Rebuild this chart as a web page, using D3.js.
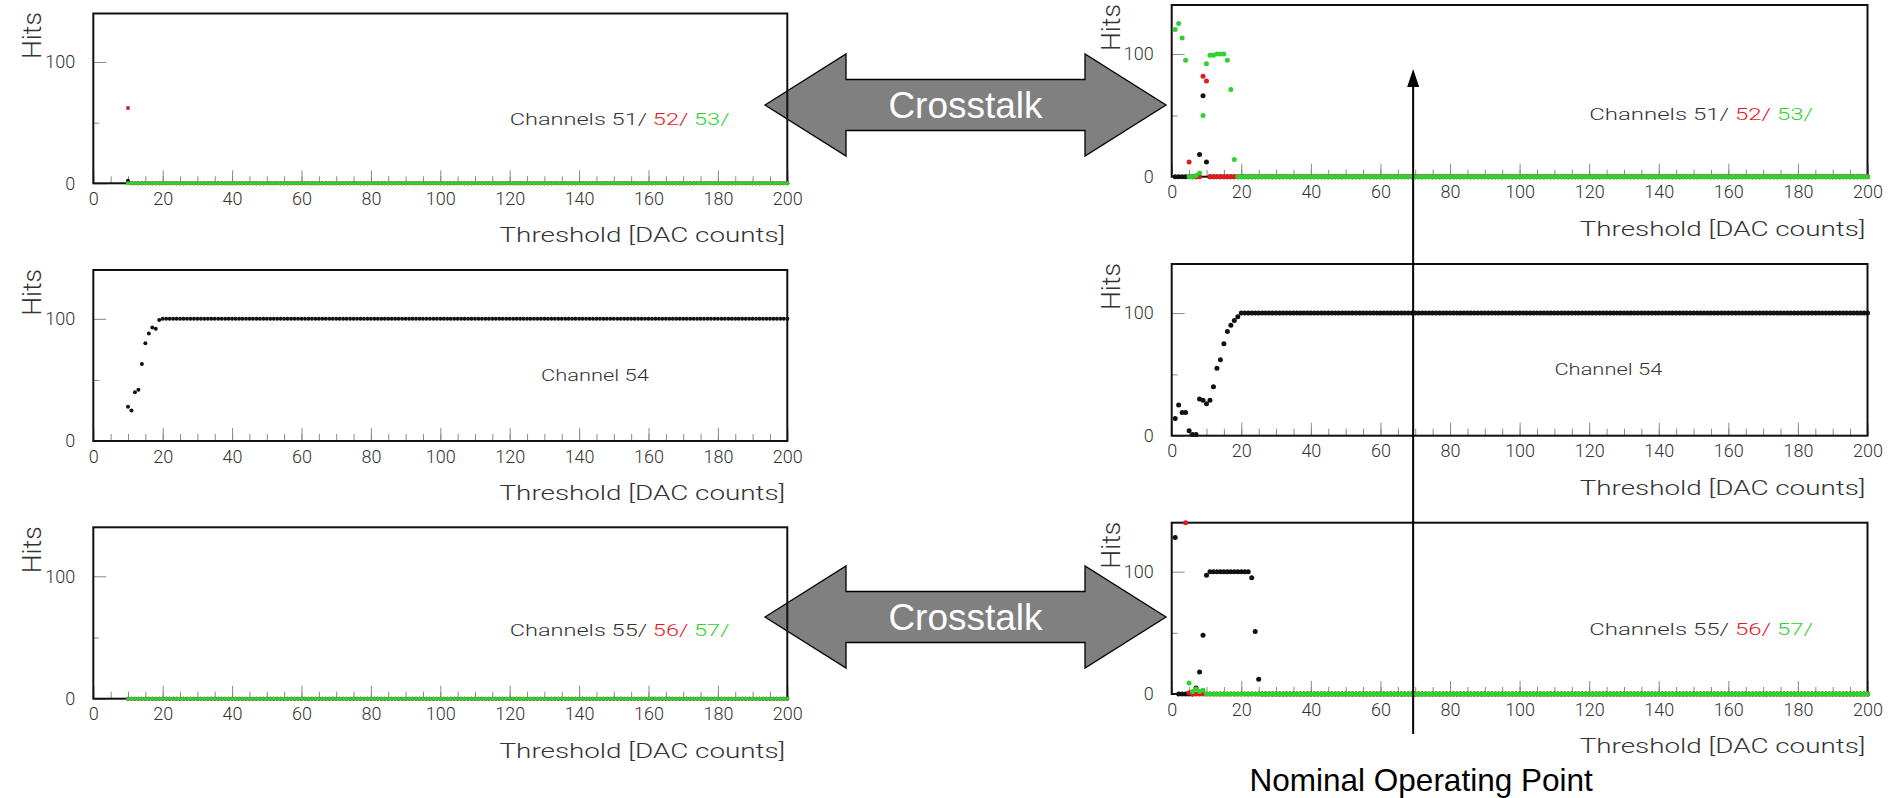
<!DOCTYPE html>
<html>
<head>
<meta charset="utf-8">
<script src="https://cdn.jsdelivr.net/npm/d3@7"></script>
<style>
html, body { margin: 0; padding: 0; background: #fff; }
svg { display: block; }
text { font-family: Roboto, "DejaVu Sans", sans-serif; font-weight: 300; white-space: pre; }
</style>
</head>
<body>
<svg id="chart" width="1890" height="798"></svg>
<script>
// threshold scan axes
const xDomain = [0, 200];
const yDomain = [0, 140];
const xMajorTicks = [0, 20, 40, 60, 80, 100, 120, 140, 160, 180, 200];
const xMinorTicks = d3.range(0, 201, 5);
const yMajorTicks = [0, 100];
const yMinorTicks = [50];

// left column scans start at threshold 10, right column at threshold 1
const startL = 10;
const startR = 1;

// hits read point by point from the start threshold; null = not drawn
const ch51L = [2];
const ch52L = [62];
const ch53L = [0];
const ch54L = [28, 25, 40, 42, 63, 80, 88, 93, 92, 99];
const ch55L = [0];
const ch56L = [0];
const ch57L = [0];

const ch51R = [0, 0, 0, 0, 0, 0, 0, 18, 66, 12];
const ch52R = [null, null, null, null, 12, 0, 0, 0, 82, 78];
const ch53R = [120, 125, 113, 95, 0, 0, 1, 3, 50, 92, 99, 99, 100, 100, 100, 95, 71, 14];
const ch54R = [14, 25, 19, 19, 4, 1, 1, 30, 29, 26, 29, 40, 55, 62, 75, 85, 90, 94, 97];
const ch55R = [128, 0, 0, 0, 0, 0, 5, 18, 48, 97, 100, 100, 100, 100, 100, 100, 100, 100, 100, 100, 100, 100, 95, 51, 12];
const ch56R = [null, null, null, 140, 1];
const ch57R = [null, null, null, null, 9, 2, 4, 2, 3];

// level each scan stays at after its listed points, up to threshold 200 (rows: 51-53, 54, 55-57)
const plateauRows = [0, 100, 0];

const nominalThreshold = 69.4;

const ink = "#333333";
const colBlack = "#111111";
const colRed = "#e3191c";
const colGreen = "#2fd12f";

const svg = d3.select("#chart");

const cols = {
  L: { x: d3.scaleLinear().domain(xDomain).range([93.3, 787.3]), r: 2.0, start: startL },
  R: { x: d3.scaleLinear().domain(xDomain).range([1171.7, 1867.5]), r: 2.5, start: startR }
};

const crossLabel = (a, b, c) => [["Channels " + a + "/ ", ink], [b + "/ ", colRed], [c + "/", colGreen]];

const panels = [
  { col: "L", y0: 183.3, top: 13.5, series: [ch51L, ch52L, ch53L], row: 0, label: crossLabel(51, 52, 53), lx: 120, ly: 53, lw: 220 },
  { col: "L", y0: 441, top: 270, series: [ch54L], row: 1, label: [["Channel 54", ink]], lx: 129, ly: 54, lw: 108 },
  { col: "L", y0: 698.7, top: 527.3, series: [ch55L, ch56L, ch57L], row: 2, label: crossLabel(55, 56, 57), lx: 120, ly: 56, lw: 220 },
  { col: "R", y0: 176.7, top: 5, series: [ch51R, ch52R, ch53R], row: 0, label: crossLabel(51, 52, 53), lx: 120, ly: 51, lw: 224 },
  { col: "R", y0: 435.7, top: 264, series: [ch54R], row: 1, label: [["Channel 54", ink]], lx: 110, ly: 54, lw: 108 },
  { col: "R", y0: 694, top: 522.7, series: [ch55R, ch56R, ch57R], row: 2, label: crossLabel(55, 56, 57), lx: 120, ly: 53, lw: 224 }
];

function toPoints(values, start, plateau) {
  const pts = [];
  values.forEach((v, i) => { if (v !== null) pts.push([start + i, v]); });
  for (let t = start + values.length; t <= xDomain[1]; t++) pts.push([t, plateau]);
  return pts;
}

// text stretched to a given width, drawn at (x, y)
function stretchedText(g, x, y, parts, size, width, anchor, rotate) {
  const t = g.append("text")
    .attr("text-anchor", anchor || "start")
    .style("font-size", size + "px");
  parts.forEach(([s, c]) => t.append("tspan").attr("fill", c).text(s));
  const k = width ? width / t.node().getComputedTextLength() : 1;
  t.attr("transform", `translate(${x},${y})${rotate ? " rotate(" + rotate + ")" : ""} scale(${k},1)`);
  return t;
}

// crosstalk arrows
function bigArrow(cy, label) {
  const xl = 765, xr = 1166, head = 81, hh = 51, sh = 25.5;
  const pts = [[xl, cy], [xl + head, cy - hh], [xl + head, cy - sh], [xr - head, cy - sh], [xr - head, cy - hh],
               [xr, cy], [xr - head, cy + hh], [xr - head, cy + sh], [xl + head, cy + sh], [xl + head, cy + hh]];
  svg.append("polygon")
    .attr("points", pts.map(p => p.join(",")).join(" "))
    .attr("fill", "#808080")
    .attr("stroke", "#000")
    .attr("stroke-width", 1.3);
  svg.append("text")
    .attr("x", (xl + xr) / 2)
    .attr("y", cy + 13)
    .attr("text-anchor", "middle")
    .style("font-family", "'Liberation Sans', Arial, sans-serif")
    .style("font-weight", 400)
    .style("font-size", "37px")
    .attr("fill", "#fff")
    .text(label);
}
bigArrow(105, "Crosstalk");
bigArrow(617, "Crosstalk");

panels.forEach(p => {
  const c = cols[p.col];
  const x = c.x;
  const y = d3.scaleLinear().domain(yDomain).range([p.y0, p.top]);
  const g = svg.append("g");

  // minor ticks
  const xMinor = g.append("g").attr("transform", `translate(0,${p.y0})`)
    .call(d3.axisBottom(x).tickValues(xMinorTicks).tickSize(-7).tickFormat(""));
  const yMinor = g.append("g").attr("transform", `translate(${x(0)},0)`)
    .call(d3.axisLeft(y).tickValues(yMinorTicks).tickSize(-6).tickFormat(""));
  // major ticks with labels
  const xAxis = g.append("g").attr("transform", `translate(0,${p.y0})`)
    .call(d3.axisBottom(x).tickValues(xMajorTicks).tickSize(-13).tickPadding(9));
  const yAxis = g.append("g").attr("transform", `translate(${x(0)},0)`)
    .call(d3.axisLeft(y).tickValues(yMajorTicks).tickSize(-13).tickPadding(18));

  [xMinor, yMinor, xAxis, yAxis].forEach(a => {
    a.select(".domain").remove();
    a.selectAll("line").attr("stroke", "#8a8a8a").attr("stroke-width", 1);
    a.selectAll("text")
      .attr("fill", ink)
      .style("font-family", "Roboto, 'DejaVu Sans', sans-serif")
      .style("font-weight", 300)
      .style("font-size", "18px");
  });

  // frame
  g.append("rect")
    .attr("x", x(xDomain[0]))
    .attr("y", y(yDomain[1]))
    .attr("width", x(xDomain[1]) - x(xDomain[0]))
    .attr("height", y(yDomain[0]) - y(yDomain[1]))
    .attr("fill", "none")
    .attr("stroke", colBlack)
    .attr("stroke-width", 2);

  // axis titles
  stretchedText(g, x(0) - 52, y(100) - 3, [["Hits", ink]], 25, 47, "start", -90);
  stretchedText(g, x(xDomain[1]) - 2, p.y0 + 59, [["Threshold [DAC counts]", ink]], 21, 286, "end");

  // channel legend
  stretchedText(g, x(p.lx), y(p.ly) + 6, p.label, 17, p.lw, "start");

  // scan points: black, then red, then green on top
  const colors = p.series.length === 1 ? [colBlack] : [colBlack, colRed, colGreen];
  p.series.forEach((vals, i) => {
    g.append("g").selectAll("circle")
      .data(toPoints(vals, c.start, plateauRows[p.row]))
      .join("circle")
      .attr("cx", d => x(d[0]))
      .attr("cy", d => y(d[1]))
      .attr("r", c.r)
      .attr("fill", colors[i]);
  });
});

// nominal operating point
const xn = cols.R.x(nominalThreshold);
svg.append("line")
  .attr("x1", xn).attr("x2", xn)
  .attr("y1", 734).attr("y2", 84)
  .attr("stroke", "#000")
  .attr("stroke-width", 2);
svg.append("polygon")
  .attr("points", `${xn},69 ${xn - 6},87 ${xn + 6},87`)
  .attr("fill", "#000");
svg.append("text")
  .attr("x", xn + 8)
  .attr("y", 791)
  .attr("text-anchor", "middle")
  .style("font-family", "'Liberation Sans', Arial, sans-serif")
  .style("font-weight", 400)
  .style("font-size", "31.5px")
  .attr("fill", "#000")
  .text("Nominal Operating Point");
</script>
</body>
</html>
